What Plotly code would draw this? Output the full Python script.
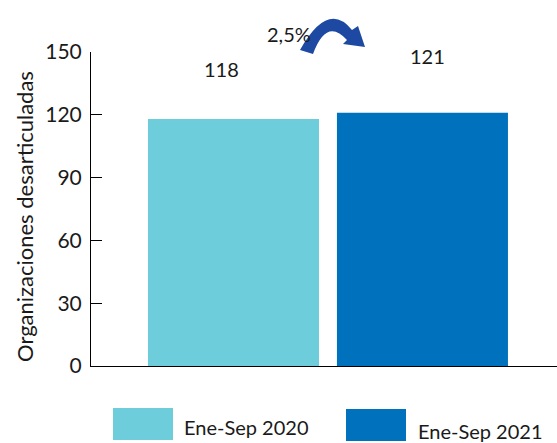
import plotly.graph_objects as go

categories = ["Ene-Sep 2020", "Ene-Sep 2021"]
values = [118, 121]
colors = ["#6dcddb", "#0071bc"]
change_label = "2,5%"
y_ticks = [0, 30, 60, 90, 120, 150]
y_title = "Organizaciones desarticuladas"

W, H = 557, 443
L, R, T, B = 91, 0, 52, 77
FONT = "Lato"
TXT = "#1a1a1a"

def px(x, y):
    return (x - L) / (W - L - R), (H - B - y) / (H - T - B)

fig = go.Figure()
xs = list(range(len(categories)))
fig.add_trace(go.Bar(x=xs, y=values, marker=dict(color=colors, line=dict(width=0)),
                     width=0.905, showlegend=False, hoverinfo="skip"))

annotations = []
shifts = [(-12, 50), (5, 57)]
for i, v in enumerate(values):
    annotations.append(dict(x=xs[i], y=v, xref="x", yref="y", text=str(v), showarrow=False,
                            xshift=shifts[i][0], yshift=shifts[i][1],
                            font=dict(family=FONT, size=20, color=TXT)))

# change label
cx, cy = px(289, 20)
annotations.append(dict(x=cx, y=cy, xref="paper", yref="paper", text=change_label, showarrow=False,
                        font=dict(family=FONT, size=20, color=TXT)))

# y-axis title
tx, ty = px(24, 217)
annotations.append(dict(x=tx, y=ty, xref="paper", yref="paper", text=y_title, showarrow=False,
                        textangle=-90, xanchor="center", yanchor="middle",
                        font=dict(family=FONT, size=22, color=TXT)))

shapes = []
# curved arrow
pts = [(300, 50), (328, 0), (352, 30), (358, 26), (365, 47), (343, 44), (347, 40), (326.5, 17), (313, 54)]
p = [px(*q) for q in pts]
path = (f"M {p[0][0]},{p[0][1]} Q {p[1][0]},{p[1][1]} {p[2][0]},{p[2][1]} "
        f"L {p[3][0]},{p[3][1]} L {p[4][0]},{p[4][1]} L {p[5][0]},{p[5][1]} L {p[6][0]},{p[6][1]} "
        f"Q {p[7][0]},{p[7][1]} {p[8][0]},{p[8][1]} Z")
shapes.append(dict(type="path", path=path, xref="paper", yref="paper",
                   fillcolor="#1d49a2", line=dict(width=0)))

# legend swatches
legend_boxes = [((113, 408), (173, 440), (182, 427)), ((346, 409), (406, 441), (416, 431))]
for i, (a, b, t) in enumerate(legend_boxes):
    x0, y0 = px(*a)
    x1, y1 = px(*b)
    shapes.append(dict(type="rect", xref="paper", yref="paper", x0=x0, y0=y1, x1=x1, y1=y0,
                       fillcolor=colors[i], line=dict(width=0)))
    lx, ly = px(*t)
    annotations.append(dict(x=lx, y=ly, xref="paper", yref="paper", text=categories[i], showarrow=False,
                            xanchor="left", yanchor="middle",
                            font=dict(family=FONT, size=20, color=TXT)))

fig.update_layout(
    width=W, height=H, margin=dict(l=L, r=R, t=T, b=B),
    paper_bgcolor="white", plot_bgcolor="white",
    font=dict(family=FONT, size=20, color=TXT),
    xaxis=dict(range=[-0.754, 1.712], showticklabels=False, ticks="", showgrid=False,
               zeroline=False, showline=True, linecolor="black", linewidth=1),
    yaxis=dict(range=[0, 150], tickvals=y_ticks, ticks="inside", ticklen=11, tickcolor="black",
               showgrid=False, zeroline=False, showline=True, linecolor="black", linewidth=1,
               ticklabelstandoff=4, automargin=False,
               tickfont=dict(family=FONT, size=21, color=TXT)),
    annotations=annotations, shapes=shapes,
)
fig.write_html("out.html", config={"displayModeBar": False},
               post_script="document.body.style.margin='0';document.body.style.overflow='hidden';")
